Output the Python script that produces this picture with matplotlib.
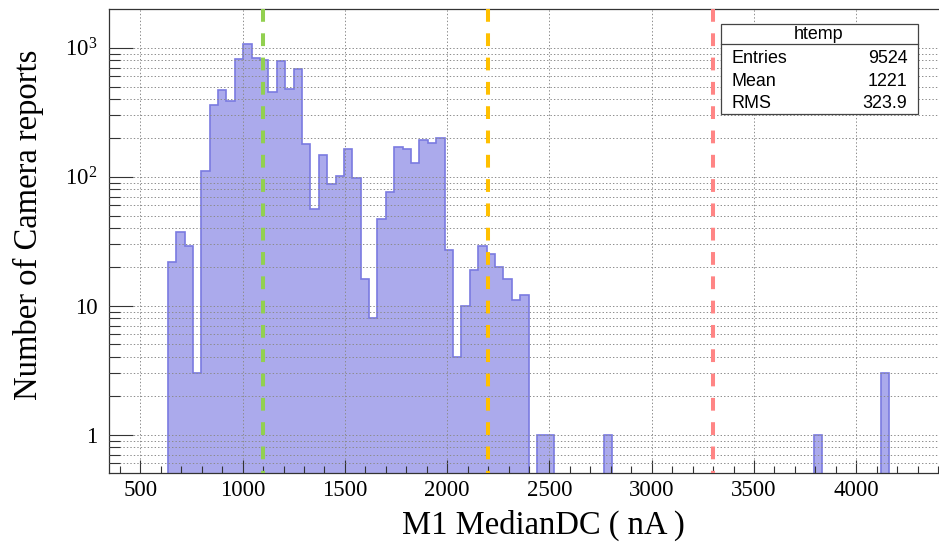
import numpy as np
import matplotlib
matplotlib.use('Agg')
import matplotlib.pyplot as plt
from matplotlib.patches import Rectangle
from matplotlib.lines import Line2D
from matplotlib.ticker import FixedLocator, FixedFormatter, MultipleLocator

# ---------------- data ----------------
X_MIN = 346.5
X_MAX = 4448.5
N_BINS = 100

counts = [
    0, 0, 0, 0, 0, 0, 0, 22, 37, 29,
    3, 111, 361, 470, 388, 813, 1062, 830, 810, 453,
    784, 476, 680, 179, 56, 146, 88, 101, 165, 97,
    16, 8, 47, 76, 170, 164, 128, 191, 182, 198,
    27, 4, 10, 19, 29, 25, 20, 16, 11, 12,
    0, 1, 1, 0, 0, 0, 0, 0, 0, 1,
    0, 0, 0, 0, 0, 0, 0, 0, 0, 0,
    0, 0, 0, 0, 0, 0, 0, 0, 0, 0,
    0, 0, 0, 0, 1, 0, 0, 0, 0, 0,
    0, 0, 3, 0, 0, 0, 0, 0, 0, 0,
]

cut_values = [1100, 2200, 3300]
cut_colors = ['#92d050', '#ffc000', '#ff8585']

y_major = [1, 10, 100, 1000]
y_major_labels = ['1', '10', r'$\mathregular{10^{2}}$', r'$\mathregular{10^{3}}$']

stat_title = 'htemp'
stat_names = ['Entries', 'Mean', 'RMS']
stat_values = ['9524', '1221', '323.9']

x_title = 'M1 MedianDC ( nA )'
y_title = 'Number of Camera reports'

# ---------------- style ----------------
plt.rcParams['font.family'] = ['Liberation Serif', 'DejaVu Serif']
plt.rcParams['mathtext.fontset'] = 'custom'
plt.rcParams['mathtext.rm'] = 'Liberation Serif'
plt.rcParams['lines.scale_dashes'] = False

FILL = '#abaaec'
EDGE = '#7a7ae0'
FRAME = '#333333'
GRID = '#8c8c8c'

W, H = 939, 542
fig = plt.figure(figsize=(W / 100, H / 100), dpi=100)
ax = fig.add_axes([109 / W, 1 - 472.7 / H, (948 - 109) / W, (472.7 - 9.3) / H])

counts_arr = np.asarray(counts, dtype=float)
edges = np.linspace(X_MIN, X_MAX, N_BINS + 1)
BASE = 1e-3
vals = np.where(counts_arr > 0, counts_arr, BASE)
ax.stairs(vals, edges, baseline=BASE, fill=True, facecolor=FILL,
          edgecolor=EDGE, linewidth=1.2, zorder=1)

ax.set_yscale('log')
ax.set_xlim(X_MIN, X_MAX)
ax.set_ylim(0.507, 1985)

for xv, col in zip(cut_values, cut_colors):
    ax.axvline(xv, ymin=1, ymax=0, color=col, lw=2.9, dashes=(9.2, 8.3), zorder=3)

# ticks
ax.xaxis.set_major_locator(MultipleLocator(500))
ax.xaxis.set_minor_locator(MultipleLocator(100))
ax.yaxis.set_major_locator(FixedLocator(y_major))
ax.yaxis.set_major_formatter(FixedFormatter(y_major_labels))
minor_pos = [m * d for d in (0.1, 1, 10, 100) for m in range(2, 10)]
ax.yaxis.set_minor_locator(FixedLocator(minor_pos))
ax.yaxis.set_minor_formatter(FixedFormatter([''] * len(minor_pos)))

ax.tick_params(axis='x', which='major', direction='in', length=9.6, width=0.8,
               pad=5, labelsize=16.5, color=FRAME, top=False)
ax.tick_params(axis='x', which='minor', direction='in', length=4.8, width=0.8,
               color=FRAME, top=False)
ax.tick_params(axis='y', which='major', direction='in', length=17.3, width=0.8,
               pad=8.5, labelsize=16.5, color=FRAME, right=False)
ax.tick_params(axis='y', which='minor', direction='in', length=7.9, width=0.8,
               color=FRAME, right=False)

ax.set_axisbelow(False)
ax.grid(True, which='both', axis='y', color=GRID, lw=0.7, linestyle=(0, (1, 1.5)))
ax.grid(True, which='major', axis='x', color=GRID, lw=0.7, linestyle=(0, (1, 1.5)))

for s in ax.spines.values():
    s.set_color(FRAME)
    s.set_linewidth(0.9)

# axis titles
fig.text(543.5 / W, 1 - 534 / H, x_title, ha='center', va='baseline', fontsize=23.5)
fig.text(28 / W, 1 - 225 / H, y_title, ha='center', va='center', rotation=90, fontsize=23.5)

# stats box
bx0, bx1, by0, by1, bdiv = 720.7, 917.7, 24.3, 113.7, 44.3
fig.add_artist(Rectangle((bx0 / W, 1 - by1 / H), (bx1 - bx0) / W, (by1 - by0) / H,
                         transform=fig.transFigure, facecolor='white',
                         edgecolor='#444444', lw=0.9, zorder=5))
fig.add_artist(Line2D([bx0 / W, bx1 / W], [1 - bdiv / H, 1 - bdiv / H],
                      transform=fig.transFigure, color='#444444', lw=0.9, zorder=6))
sans = ['Liberation Sans', 'DejaVu Sans']
fig.text(819 / W, 1 - 34.3 / H, stat_title, ha='center', va='center',
         family=sans, fontsize=12.9, zorder=7)
for k, (nm, vv) in enumerate(zip(stat_names, stat_values)):
    yy = 1 - (58.7 + k * 22.3) / H
    fig.text(731.7 / W, yy, nm, ha='left', va='center', family=sans, fontsize=12.9, zorder=7)
    fig.text(907.3 / W, yy, vv, ha='right', va='center', family=sans, fontsize=12.9, zorder=7)

fig.savefig('out.png', dpi=100)
